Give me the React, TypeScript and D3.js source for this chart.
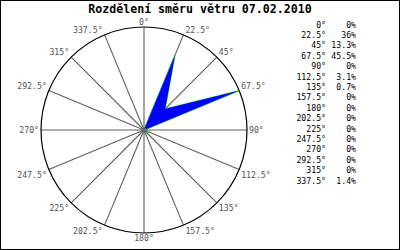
import React from "react";
import * as d3 from "d3";

const directions = ["0°", "22.5°", "45°", "67.5°", "90°", "112.5°", "135°", "157.5°", "180°", "202.5°", "225°", "247.5°", "270°", "292.5°", "315°", "337.5°"];
const angles = [0, 22.5, 45, 67.5, 90, 112.5, 135, 157.5, 180, 202.5, 225, 247.5, 270, 292.5, 315, 337.5];
const values = [0, 36, 13.3, 45.5, 0, 3.1, 0.7, 0, 0, 0, 0, 0, 0, 0, 0, 1.4];
const valueLabels = ["0%", "36%", "13.3%", "45.5%", "0%", "3.1%", "0.7%", "0%", "0%", "0%", "0%", "0%", "0%", "0%", "0%", "1.4%"];
const title = "Rozdělení směru větru 07.02.2010";

const W = 400, H = 250;
const cx = 144, cy = 130, R = 103;
const mono = "'DejaVu Sans Mono', monospace";

export default function App() {
  const r = d3.scaleLinear().domain([0, d3.max(values) as number]).range([0, R]);
  const pt = (a: number, rad: number): [number, number] => {
    const t = (a * Math.PI) / 180;
    return [cx + rad * Math.sin(t), cy - rad * Math.cos(t)];
  };
  const line = d3.line<[number, number]>().curve(d3.curveLinearClosed);
  const poly = line(angles.map((a, i) => pt(a, r(values[i]))))!;

  return (
    <svg width={W} height={H} style={{ position: "fixed", left: 0, top: 0, background: "#fff" }}>
      <rect x={0.5} y={0.5} width={W - 1} height={H - 1} fill="#fff" stroke="#000" />
      <text x={200} y={13} textAnchor="middle" fontFamily={mono} fontWeight="bold" fontSize={11.6} fill="#000">{title}</text>
      {angles.map((a, i) => {
        const [x, y] = pt(a, R);
        return <line key={"s" + i} x1={cx} y1={cy} x2={x} y2={y} stroke="#5f5f5f" strokeWidth={1.1} />;
      })}
      <circle cx={cx} cy={cy} r={R} fill="none" stroke="#000" strokeWidth={1.2} />
      <path d={poly} fill="none" stroke="#00ff00" strokeWidth={0.8} />
      <path d={poly} fill="#0000ff" stroke="none" />
      <circle cx={cx} cy={cy} r={2.5} fill="#666" />
      {angles.map((a, i) => {
        const [x, y] = pt(a, R);
        let anchor: "start" | "middle" | "end" = "middle";
        if (a > 0 && a < 180) anchor = "start";
        else if (a > 180) anchor = "end";
        let baseline: "auto" | "hanging" | "central" = "auto";
        if (a === 90 || a === 270) baseline = "central";
        else if (a > 90 && a < 270) baseline = "hanging";
        const dx = anchor === "start" ? 2 : anchor === "end" ? -2 : 0;
        const dy = baseline === "auto" ? -2 : baseline === "hanging" ? 2 : 0;
        return (
          <text key={"l" + i} x={x + dx} y={y + dy} textAnchor={anchor} dominantBaseline={baseline}
            fontFamily={mono} fontSize={8.2} fill="#555">{directions[i]}</text>
        );
      })}
      {directions.map((d, i) => (
        <g key={"g" + i}>
          <text x={326} y={24.5 + i * 10.4} textAnchor="end" dominantBaseline="central" fontFamily={mono} fontSize={8.2} fill="#000">{d}</text>
          <text x={356} y={24.5 + i * 10.4} textAnchor="end" dominantBaseline="central" fontFamily={mono} fontSize={8.2} fill="#000">{valueLabels[i]}</text>
        </g>
      ))}
    </svg>
  );
}
